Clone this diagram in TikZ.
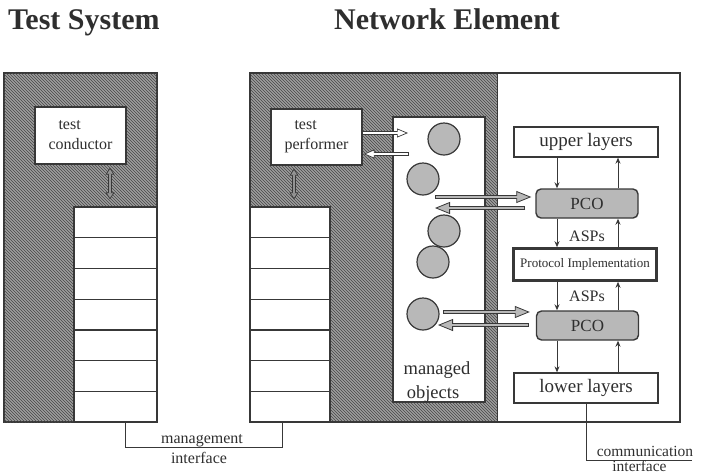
\documentclass[tikz,border=0pt]{standalone}
\usepackage{fontspec}
\setmainfont{Liberation Serif}
\usetikzlibrary{arrows.meta,patterns}

\definecolor{edgec}{gray}{0.22}
\definecolor{inkc}{gray}{0.18}
\definecolor{hatchbg}{gray}{0.62}
\definecolor{hatchln}{gray}{0.28}
\definecolor{dotfill}{gray}{0.72}
\definecolor{tubefill}{gray}{0.58}

\tikzset{
  every node/.style={text=inkc},
  box/.style={draw=edgec, line width=1.3pt, fill=white, inner sep=0pt},
  cell/.style={box, minimum height=30.714pt},
  hatched/.style={fill=hatchbg, postaction={pattern=north west lines, pattern color=hatchln}},
  pcobox/.style={draw=edgec, line width=1.4pt, fill=dotfill, rounded corners=5pt,
    minimum width=102pt, minimum height=29pt, inner sep=0pt, font=\fontsize{17}{20}\selectfont},
  mobj/.style={circle, draw=edgec, line width=1.2pt, fill=dotfill, minimum size=32pt, inner sep=0pt},
  flow/.style={draw=edgec, line width=1pt, -{Stealth[length=6pt,width=5pt]}},
  conn/.style={draw=edgec, line width=1pt},
  lbl/.style={font=\fontsize{16}{20}\selectfont, inner sep=0pt},
  title/.style={font=\fontsize{30}{36}\selectfont\bfseries, inner sep=0pt, anchor=base west},
  fatshell/.style={draw=edgec, line width=4.4pt,
    -{Triangle[length=15pt,width=12pt,line width=0.8pt,fill=dotfill]}},
  fatcore/.style={draw=dotfill, line width=2.6pt},
  openshell/.style={draw=edgec, line width=3.8pt,
    -{Triangle[length=11pt,width=9pt,line width=0.7pt,fill=white]}},
  opencore/.style={draw=white, line width=2.2pt},
  dblshell/.style={draw=edgec, line width=3.4pt,
    {Triangle[length=7pt,width=9pt,line width=0.7pt,fill=tubefill]}-{Triangle[length=7pt,width=9pt,line width=0.7pt,fill=tubefill]}},
  dblcore/.style={draw=tubefill, line width=1.8pt},
}

% two-tone block arrows: outline pass, then the lighter core
\newcommand\fatarrow[4]{%
  \draw[fatshell, shorten <=#3, shorten >=#4] (#1) -- (#2);
  \draw[fatcore, shorten <={#3+0.9pt}, shorten >={#4+13pt}] (#1) -- (#2);
}
\newcommand\openarrow[4]{%
  \draw[openshell, shorten <=#3, shorten >=#4] (#1) -- (#2);
  \draw[opencore, shorten <={#3+0.8pt}, shorten >={#4+9.5pt}] (#1) -- (#2);
}
\newcommand\twowayarrow[4]{%
  \draw[dblshell, shorten <=#3, shorten >=#4] (#1) -- (#2);
  \draw[dblcore, shorten <={#3+6pt}, shorten >={#4+6pt}] (#1) -- (#2);
}

\begin{document}
\begin{tikzpicture}[x=1pt, y=-1pt]
\useasboundingbox (0,0) rectangle (706,475);

% titles
\node[title] (tstitle) at (8,29) {Test System};
\node[title] (netitle) at (334,29) {Network Element};

% test system frame
\node[box, hatched, minimum width=153pt, minimum height=349pt] (tsys) at (80.5,247.5) {};

% network element frame: shaded management part, white protocol part
\path[hatched] (250,73) rectangle (497,422);
\node[draw=edgec, line width=1.3pt, inner sep=0pt, minimum width=430pt, minimum height=349pt] (ne) at (465,247.5) {};
\coordinate (split) at (497,0);
\draw[conn] (ne.north -| split) -- (ne.south -| split);

% protocol stacks of the management channel
\foreach \i in {1,...,7} {
  \node[cell, minimum width=83pt] (ls\i) at (115.5,{207+(\i-0.5)*30.714}) {};
  \node[cell, minimum width=80pt] (rs\i) at (290,{207+(\i-0.5)*30.714}) {};
}

% test conductor / performer
\node[box, minimum width=91pt, minimum height=57pt, align=left, font=\fontsize{16}{20}\selectfont]
  (cond) at (80.5,135.5) {\hspace*{10pt}test\\conductor};
\node[box, minimum width=91pt, minimum height=56pt, align=left, font=\fontsize{16}{20}\selectfont]
  (perf) at (316.5,137) {\hspace*{10pt}test\\performer};

\coordinate (dx1) at (110,0);
\coordinate (dx2) at (294,0);
\twowayarrow{cond.south -| dx1}{ls1.north -| dx1}{3pt}{7pt}
\twowayarrow{perf.south -| dx2}{rs1.north -| dx2}{3pt}{7pt}

% managed objects
\node[box, minimum width=92pt, minimum height=285pt] (mobox) at (439,259.5) {};
\node[mobj] (mo1) at (444,139) {};
\node[mobj] (mo2) at (423,179) {};
\node[mobj] (mo3) at (444,231) {};
\node[mobj] (mo4) at (433,262) {};
\node[mobj] (mo5) at (423,314) {};
\node[font=\fontsize{18.5}{25}\selectfont, anchor=base, inner sep=0pt] (molbl1) at (437,374) {managed};
\node[font=\fontsize{18.5}{25}\selectfont, anchor=base, inner sep=0pt] (molbl2) at (433,398) {objects};

\coordinate (pa1) at (408,133);
\coordinate (pa2) at (409,154);
\openarrow{perf.east |- pa1}{pa1}{0pt}{0pt}
\openarrow{pa2}{perf.east |- pa2}{0pt}{1pt}

% protocol stack under test
\node[box, minimum width=144pt, minimum height=30pt, font=\fontsize{19}{22}\selectfont] (upper) at (586,142) {upper layers};
\node[pcobox] (pco1) at (587,203.5) {PCO};
\node[box, line width=2.6pt, minimum width=143pt, minimum height=32pt, font=\fontsize{13}{15}\selectfont]
  (impl) at (585,264.5) {Protocol Implementation};
\node[pcobox] (pco2) at (587.5,325.5) {PCO};
\node[box, minimum width=144pt, minimum height=30pt, font=\fontsize{19}{22}\selectfont] (lower) at (586,388) {lower layers};
\node[font=\fontsize{16}{18}\selectfont, inner sep=0pt] (asp1) at (587,236) {ASPs};
\node[font=\fontsize{16}{18}\selectfont, inner sep=0pt] (asp2) at (587,296) {ASPs};

\coordinate (dn) at (557,0);
\coordinate (up) at (618,0);
\draw[flow] (upper.south -| dn) -- (pco1.north -| dn);
\draw[flow] (pco1.south -| dn) -- (impl.north -| dn);
\draw[flow] (impl.south -| dn) -- (pco2.north -| dn);
\draw[flow] (pco2.south -| dn) -- (lower.north -| dn);
\draw[flow] (pco1.north -| up) -- (upper.south -| up);
\draw[flow] (impl.north -| up) -- (pco1.south -| up);
\draw[flow] (pco2.north -| up) -- (impl.south -| up);
\draw[flow] (lower.north -| up) -- (pco2.south -| up);

% links between managed objects and the PCOs
\coordinate (fa1) at (435,197);
\coordinate (fa2) at (435,208);
\coordinate (fa3) at (443,312);
\coordinate (fa4) at (438,325);
\fatarrow{fa1}{pco1.west |- fa1}{0pt}{4pt}
\fatarrow{pco1.west |- fa2}{fa2}{10pt}{0pt}
\fatarrow{fa3}{pco2.west |- fa3}{0pt}{6pt}
\fatarrow{pco2.west |- fa4}{fa4}{7pt}{0pt}

% management interface
\coordinate (mL) at (125,447);
\coordinate (mR) at (282,447);
\draw[conn] (ls7.south -| mL) -- (mL) -- (mR) -- (rs7.south -| mR);
\node[lbl, anchor=base] (mgt1) at (202,443) {management};
\node[lbl, anchor=base] (mgt2) at (199,463) {interface};

% communication interface
\coordinate (cE) at (692,460);
\draw[conn] (lower.south) -- (lower.south |- cE) -- (cE);
\node[lbl, anchor=base, font=\fontsize{15.5}{18}\selectfont] (com1) at (645,456) {communication};
\node[lbl, anchor=base, font=\fontsize{15.5}{18}\selectfont] (com2) at (639.5,471) {interface};
\end{tikzpicture}
\end{document}
